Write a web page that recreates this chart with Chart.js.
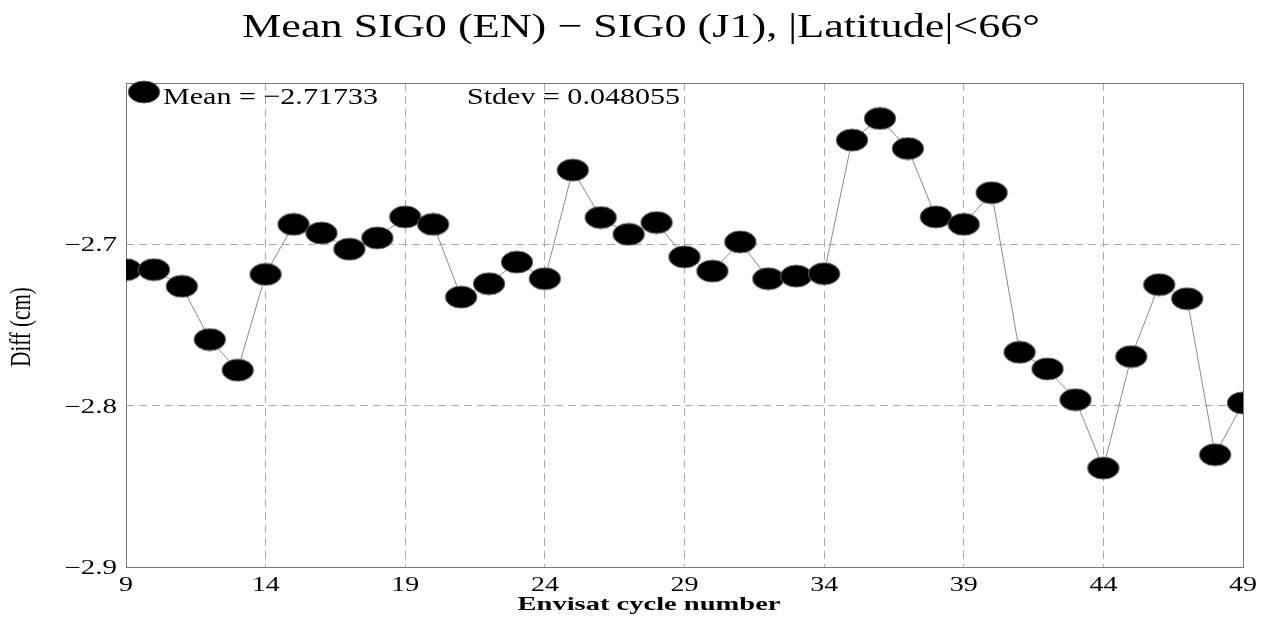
<!DOCTYPE html>
<html>
<head>
<meta charset="utf-8">
<script src="https://cdn.jsdelivr.net/npm/chart.js@4/dist/chart.umd.min.js"></script>
<style>
  html, body { margin: 0; padding: 0; background: #fff; }
  #wrap { width: 1274px; height: 621px; }
</style>
</head>
<body>
<div id="wrap"><canvas id="diffChart" width="1274" height="621"></canvas></div>
<script>
// Envisat cycles and the mean SIG0 difference for each one
const cycles = [9, 10, 11, 12, 13, 14, 15, 16, 17, 18, 19, 20, 21, 22, 23, 24, 25, 26, 27, 28, 29,
                30, 31, 32, 33, 34, 35, 36, 37, 38, 39, 40, 41, 42, 43, 44, 45, 46, 47, 48, 49];
const diffValues = [-2.7157, -2.7157, -2.726, -2.759, -2.778, -2.7186, -2.6876, -2.693, -2.703, -2.696,
                    -2.683, -2.6876, -2.7327, -2.7244, -2.711, -2.7213, -2.654, -2.6834, -2.6938, -2.6865,
                    -2.7078, -2.7166, -2.6985, -2.7213, -2.7197, -2.7182, -2.6354, -2.622, -2.6406, -2.683,
                    -2.6876, -2.668, -2.7669, -2.7772, -2.7963, -2.8387, -2.7696, -2.725, -2.7337, -2.8304,
                    -2.7983];
const xTicks = [9, 14, 19, 24, 29, 34, 39, 44, 49];
const yTicks = [-2.9, -2.8, -2.7, -2.6];
const yTickLabels = ['\u22122.9', '\u22122.8', '\u22122.7', ''];
const titleText = 'Mean SIG0 (EN) \u2212 SIG0 (J1), |Latitude|<66\u00b0';
const statsText = ['Mean = \u22122.71733', 'Stdev = 0.048055'];
const xTitle = 'Envisat cycle number';
const yTitle = 'Diff (cm)';

const serif = '"Liberation Serif", "DejaVu Serif", serif';

// the original figure is stretched sideways, so text is drawn with a horizontal scale
function wideText(ctx, text, x, y, font, sx, align) {
    ctx.save();
    ctx.font = font;
    const w = ctx.measureText(text).width * sx;
    let left = x;
    if (align === 'center') left = x - w / 2;
    if (align === 'right') left = x - w;
    ctx.translate(left, y);
    ctx.scale(sx, 1);
    ctx.textAlign = 'left';
    ctx.fillText(text, 0, 0);
    ctx.restore();
}
function fitText(ctx, text, x, y, font, width, align) {
    ctx.save();
    ctx.font = font;
    const sx = width / ctx.measureText(text).width;
    ctx.restore();
    wideText(ctx, text, x, y, font, sx, align);
}

// ellipse marker used for every point
function makeEllipse() {
    const c = document.createElement('canvas');
    c.width = 34; c.height = 24;
    const g = c.getContext('2d');
    g.beginPath();
    g.ellipse(17, 12, 15.8, 11, 0, 0, Math.PI * 2);
    g.fillStyle = '#000';
    g.fill();
    g.strokeStyle = '#666';
    g.lineWidth = 1;
    g.stroke();
    return c;
}
const ellipseImg = makeEllipse();

const textPlugin = {
    id: 'texts',
    afterDraw(chart) {
        const ctx = chart.ctx;
        const xs = chart.scales.x;
        const ys = chart.scales.y;
        ctx.save();
        ctx.fillStyle = '#000';
        ctx.textBaseline = 'alphabetic';

        // title
        fitText(ctx, titleText, 641, 37, '34px ' + serif, 798, 'center');

        // stats box in the top left corner
        ctx.drawImage(ellipseImg, 127, 80);
        fitText(ctx, statsText[0], 163, 104, '24px ' + serif, 215, 'left');
        fitText(ctx, statsText[1], 467, 104, '24px ' + serif, 213, 'left');

        // tick labels
        xTicks.forEach(v => {
            wideText(ctx, String(v), xs.getPixelForValue(v), 591, '20px ' + serif, 1.4, 'center');
        });
        yTicks.forEach((v, i) => {
            if (yTickLabels[i]) {
                wideText(ctx, yTickLabels[i], 117, ys.getPixelForValue(v) + 7, '20px ' + serif, 1.45, 'right');
            }
        });

        // axis titles
        fitText(ctx, xTitle, 649, 610, 'bold 19px ' + serif, 263, 'center');
        ctx.save();
        ctx.translate(22, 327);
        ctx.rotate(-Math.PI / 2);
        ctx.scale(1, 1.4);
        ctx.font = '21px ' + serif;
        ctx.textAlign = 'center';
        ctx.textBaseline = 'middle';
        ctx.fillText(yTitle, 0, 0);
        ctx.restore();

        ctx.restore();
    }
};

const framePlugin = {
    // solid frame around the plot, and markers cut at the plot edge
    id: 'frame',
    beforeDatasetsDraw(chart) {
        const ctx = chart.ctx;
        const a = chart.chartArea;
        ctx.save();
        ctx.strokeStyle = '#777';
        ctx.lineWidth = 1;
        ctx.strokeRect(a.left + 0.5, a.top + 0.5, a.right - a.left, a.bottom - a.top);
        ctx.restore();
    },
    beforeDatasetDraw(chart) {
        const a = chart.chartArea;
        chart.ctx.save();
        chart.ctx.beginPath();
        chart.ctx.rect(a.left, a.top, a.right - a.left + 1, a.bottom - a.top);
        chart.ctx.clip();
    },
    afterDatasetDraw(chart) {
        chart.ctx.restore();
    }
};

const points = cycles.map((c, i) => ({ x: c, y: diffValues[i] }));

new Chart(document.getElementById('diffChart'), {
    type: 'line',
    data: {
        datasets: [{
            data: points,
            borderColor: '#8a8a8a',
            borderWidth: 1,
            pointStyle: ellipseImg,
            pointRadius: 12,
            tension: 0
        }]
    },
    options: {
        responsive: false,
        animation: false,
        layout: { padding: { left: 0, right: 31, top: 83, bottom: 0 } },
        plugins: {
            legend: { display: false },
            tooltip: { enabled: false },
            title: { display: false }
        },
        scales: {
            x: {
                type: 'linear',
                min: 9,
                max: 49,
                afterBuildTicks(scale) { scale.ticks = xTicks.map(v => ({ value: v })); },
                afterFit(scale) { scale.height = 54; },
                grid: { color: '#aaa', drawTicks: false },
                border: { display: false, dash: [8, 5] },
                ticks: { display: false }
            },
            y: {
                min: -2.9,
                max: -2.6,
                afterBuildTicks(scale) { scale.ticks = yTicks.map(v => ({ value: v })); },
                afterFit(scale) { scale.width = 126; },
                grid: { color: '#aaa', drawTicks: false },
                border: { display: false, dash: [8, 5] },
                ticks: { display: false }
            }
        }
    },
    plugins: [framePlugin, textPlugin]
});
</script>
</body>
</html>
